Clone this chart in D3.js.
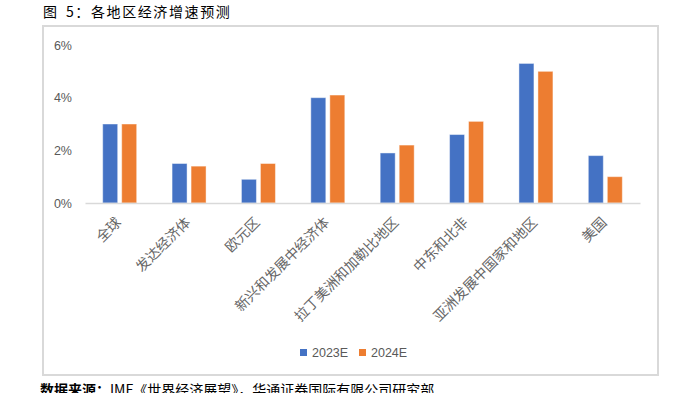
<!DOCTYPE html>
<html>
<head>
<meta charset="utf-8">
<script src="https://cdn.jsdelivr.net/npm/d3@7"></script>
<style>
  html, body { margin: 0; padding: 0; background: #fff; }
  svg { display: block; }
</style>
</head>
<body>
<svg id="chart" width="693" height="393"></svg>
<script>
const categories = ["全球", "发达经济体", "欧元区", "新兴和发展中经济体", "拉丁美洲和加勒比地区", "中东和北非", "亚洲发展中国家和地区", "美国"];
const seriesNames = ["2023E", "2024E"];
const values2023 = [3.0, 1.5, 0.9, 4.0, 1.9, 2.6, 5.3, 1.8];
const values2024 = [3.0, 1.4, 1.5, 4.1, 2.2, 3.1, 5.0, 1.0];
const yTicks = [0, 2, 4, 6];
const colors = ["#4472C4", "#ED7D31"];
const titlePrefix = "图";
const titleText = "5：各地区经济增速预测";
const sourceBold = "数据来源：";
const sourceText = "IMF《世界经济展望》，华通证券国际有限公司研究部";

const svg = d3.select("#chart");
const cjk = "'Noto Sans CJK SC', 'Noto Sans', sans-serif";

// Title
const title = svg.append("text").attr("y", 16.5)
  .attr("font-family", cjk).attr("font-size", 14).attr("fill", "#000");
title.append("tspan").attr("x", 43).text(titlePrefix);
title.append("tspan").attr("x", 66).attr("letter-spacing", 1.6).text(titleText);

// Chart border
svg.append("rect").attr("x", 43).attr("y", 26).attr("width", 615).attr("height", 349)
  .attr("fill", "none").attr("stroke", "#d9d9d9").attr("stroke-width", 2);

const x0 = d3.scaleBand().domain(categories).range([85, 640]).paddingInner(0).paddingOuter(0);
const x1 = d3.scaleBand().domain(seriesNames).range([0, 34]).paddingInner(4 / 19).paddingOuter(0);
const y = d3.scaleLinear().domain([0, 6]).range([203, 45]);

// Y axis labels
const yAxis = d3.axisLeft(y).tickValues(yTicks).tickFormat(d => d + "%").tickSize(0).tickPadding(0);
const gy = svg.append("g").attr("transform", "translate(72,0)").call(yAxis);
gy.select(".domain").remove();
gy.selectAll("text").attr("font-family", "'Liberation Sans', Arial, sans-serif")
  .attr("font-size", 12.5).attr("fill", "#595959");

// Bars
const data = categories.map((c, i) => ({ c, vals: [values2023[i], values2024[i]] }));
const groups = svg.append("g").selectAll("g").data(data).join("g")
  .attr("transform", d => `translate(${x0(d.c) + x0.bandwidth() / 2 - 17},0)`);
groups.selectAll("rect").data(d => d.vals.map((v, j) => ({ s: seriesNames[j], v, j })))
  .join("rect")
  .attr("x", d => x1(d.s))
  .attr("y", d => y(d.v))
  .attr("width", x1.bandwidth())
  .attr("height", d => y(0) - y(d.v))
  .attr("fill", d => colors[d.j])
  .attr("stroke", "rgba(255,255,255,0.45)")
  .attr("stroke-width", 1);

// X axis
const xAxis = d3.axisBottom(x0).tickSize(0).tickFormat("");
const gx = svg.append("g").attr("transform", "translate(0,203)").call(xAxis);
gx.select(".domain").attr("stroke", "#d9d9d9").attr("stroke-width", 1.5);

// Rotated category labels
svg.append("g").selectAll("text").data(categories).join("text")
  .attr("transform", d => `translate(${x0(d) + x0.bandwidth() / 2 - 2},219) rotate(-45)`)
  .attr("text-anchor", "end")
  .attr("dominant-baseline", "central")
  .attr("font-family", cjk).attr("font-size", 14).attr("fill", "#666666")
  .text(d => d);

// Legend
const legend = svg.append("g").selectAll("g").data(seriesNames).join("g")
  .attr("transform", (d, i) => `translate(${300 + i * 59},349)`);
legend.append("rect").attr("width", 7).attr("height", 7).attr("fill", (d, i) => colors[i]);
legend.append("text").attr("x", 12).attr("y", 4).attr("dominant-baseline", "central")
  .attr("font-family", "'Liberation Sans', Arial, sans-serif").attr("font-size", 12.5)
  .attr("fill", "#595959").text(d => d);

// Source
const src = svg.append("text").attr("x", 40).attr("y", 395)
  .attr("font-family", cjk).attr("font-size", 14).attr("fill", "#000");
src.append("tspan").attr("font-weight", "bold").text(sourceBold);
src.append("tspan").text(sourceText);
</script>
</body>
</html>
